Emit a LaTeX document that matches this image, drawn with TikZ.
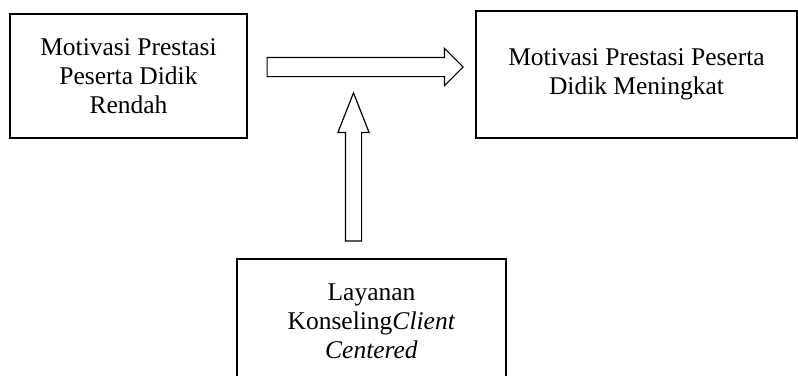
\documentclass[tikz,border=0pt]{standalone}
\usepackage{fontspec}
\setmainfont{Liberation Serif}
\usetikzlibrary{shapes.arrows}

\begin{document}
\begin{tikzpicture}[x=1pt,y=1pt,
	kotak/.style={draw,line width=1.2pt,align=center,inner sep=0pt,
		font=\fontsize{25.5}{29}\selectfont},
	panah/.style={draw,line width=1.2pt,single arrow,single arrow head indent=0pt,
		inner xsep=0pt,fill=white}]
			\clip (0,0) rectangle (798,-375);
			\node[kotak,minimum width=237,minimum height=124] (rendah) at (128.5,-76)
			{Motivasi Prestasi\\Peserta Didik\\Rendah};
			\node[kotak,minimum width=321,minimum height=127] (meningkat) at (636.5,-74.5)
			{Motivasi Prestasi Peserta\\Didik Meningkat};
			\node[kotak,minimum width=269,minimum height=124] (layanan) at (371.5,-321)
			{Layanan\\Konseling\textit{Client}\\\textit{Centered}};
			% panah
			\node[panah,inner ysep=9pt,single arrow head extend=9pt,single arrow tip angle=90,
				minimum height=196,anchor=tail] (maju) at (266.5,-67) {};
			\node[panah,inner ysep=7.5pt,single arrow head extend=7.5pt,single arrow tip angle=43,
				minimum height=148,rotate=90,anchor=tail] (dorong) at (353.5,-241.5) {};
		\end{tikzpicture}
\end{document}
